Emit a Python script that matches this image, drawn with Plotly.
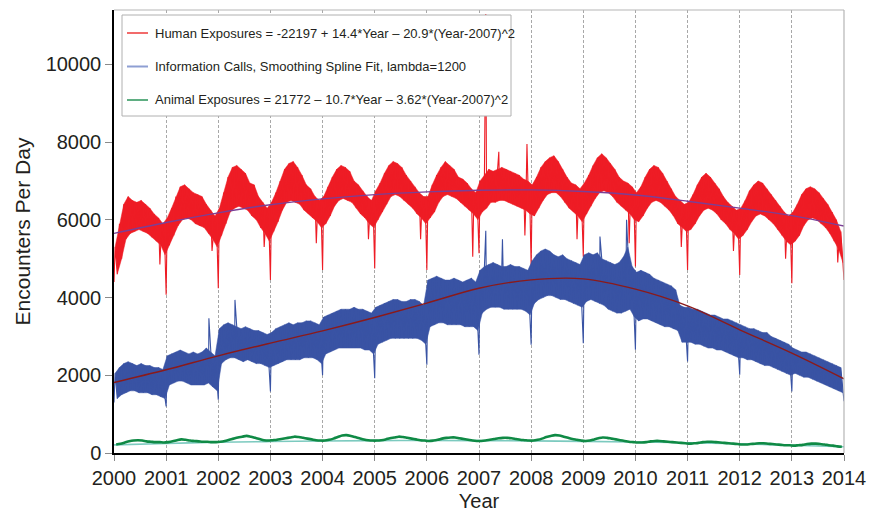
import plotly.graph_objects as go

# ---------------- data ----------------
years = list(range(2000, 2015))
tick_labels = [str(y) for y in years]
y_ticks = [0, 2000, 4000, 6000, 8000, 10000]
y_tick_labels = ["0", "2000", "4000", "6000", "8000", "10000"]

# Human exposures (red, top band): monthly upper / lower envelope, 2000-01 .. 2013-12
red_hi = [
    5300, 5900, 6400, 6600, 6500, 6450, 6500, 6400, 6300, 6150, 6050, 5900,
    6050, 6300, 6600, 6850, 6900, 6800, 6700, 6650, 6600, 6400, 6250, 6100,
    6300, 6700, 7100, 7350, 7400, 7300, 7200, 6950, 6900, 6600, 6450, 6300,
    6450, 6700, 7000, 7300, 7450, 7500, 7350, 7150, 6900, 6800, 6600, 6500,
    6600, 6850, 7100, 7300, 7400, 7350, 7250, 7000, 6900, 6750, 6600, 6500,
    6750, 6950, 7200, 7400, 7500, 7450, 7350, 7150, 7000, 6850, 6700, 6600,
    6600, 6900, 7150, 7350, 7500, 7400, 7300, 7100, 7050, 6950, 6800, 6700,
    7000, 7150, 7300, 7250, 7300, 7350, 7300, 7250, 7200, 7150, 7050, 7000,
    6900, 7100, 7350, 7500, 7600, 7650, 7500, 7300, 7100, 6950, 6900, 6800,
    6950, 7150, 7400, 7600, 7700, 7600, 7450, 7300, 7100, 7000, 6950, 6850,
    6700, 6850, 7100, 7300, 7400, 7350, 7200, 7000, 6800, 6600, 6500, 6400,
    6450, 6650, 6900, 7100, 7200, 7100, 6950, 6800, 6600, 6450, 6350, 6250,
    6300, 6500, 6750, 6900, 7000, 6950, 6800, 6650, 6500, 6350, 6200, 6100,
    6200, 6400, 6650, 6800, 6850, 6800, 6700, 6550, 6400, 6200, 6000, 5700,
]
red_lo = [
    4600, 5000, 5500, 5650, 5700, 5750, 5700, 5650, 5550, 5450, 5350, 5100,
    5350, 5600, 5850, 6000, 6050, 6000, 5900, 5850, 5800, 5650, 5500, 5300,
    5600, 5900, 6200, 6300, 6350, 6300, 6250, 6100, 6000, 5800, 5650, 5450,
    5700, 5950, 6250, 6450, 6500, 6450, 6400, 6250, 6150, 6050, 5950, 5800,
    5900, 6100, 6350, 6500, 6550, 6500, 6450, 6300, 6150, 6050, 5900, 5800,
    6000, 6200, 6400, 6600, 6650, 6600, 6500, 6400, 6300, 6150, 6050, 5900,
    6050, 6200, 6450, 6600, 6650, 6600, 6550, 6450, 6350, 6250, 6150, 6000,
    6200, 6300, 6450, 6450, 6500, 6500, 6450, 6400, 6350, 6300, 6250, 6150,
    6100, 6300, 6500, 6650, 6700, 6700, 6600, 6450, 6300, 6200, 6100, 5950,
    6150, 6350, 6550, 6700, 6750, 6700, 6600, 6450, 6350, 6250, 6150, 6000,
    5950, 6100, 6300, 6450, 6500, 6450, 6350, 6250, 6100, 5900, 5800, 5700,
    5750, 5900, 6100, 6250, 6300, 6250, 6150, 6000, 5900, 5750, 5650, 5500,
    5600, 5750, 5950, 6100, 6150, 6100, 6000, 5900, 5750, 5600, 5450, 5350,
    5450, 5600, 5850, 6000, 6050, 6000, 5900, 5800, 5650, 5450, 5250, 4900,
]
# single-day outliers of the red series (holidays and spikes)
red_spike_x = [2000.0, 2000.88, 2001.0, 2001.88, 2002.0, 2002.88, 2003.0, 2003.88,
               2004.0, 2004.88, 2005.0, 2005.88, 2006.0, 2006.88, 2007.0, 2007.13,
               2007.38, 2007.88, 2007.92, 2008.0, 2008.88, 2009.0, 2009.88, 2010.0,
               2010.88, 2011.0, 2011.88, 2012.0, 2012.88, 2013.0, 2013.88, 2014.0]
red_spike_y = [4400, 4850, 4070, 5200, 4240, 5300, 4450, 5400,
               4710, 5500, 4750, 5500, 4710, 5050, 5140, 11300,
               7750, 5600, 7950, 4800, 5500, 5050, 5400, 4800,
               5300, 4710, 5200, 4580, 5000, 4370, 4900, 4450]

# Information calls (blue, middle band): monthly upper / lower envelope
blue_hi = [
    2050, 2200, 2300, 2350, 2300, 2250, 2300, 2250, 2250, 2200, 2200, 2150,
    2500, 2550, 2600, 2650, 2600, 2550, 2600, 2550, 2600, 2700, 2600, 2500,
    3200, 3300, 3350, 3300, 3250, 3200, 3250, 3200, 3150, 3150, 3100, 3050,
    3100, 3200, 3250, 3300, 3350, 3300, 3350, 3350, 3400, 3400, 3350, 3300,
    3500, 3550, 3600, 3650, 3700, 3700, 3700, 3750, 3700, 3700, 3650, 3600,
    3750, 3800, 3850, 3900, 3950, 3950, 3900, 3900, 3950, 3950, 3900, 3800,
    4450, 4500, 4550, 4500, 4450, 4450, 4500, 4450, 4400, 4450, 4500, 4400,
    4700, 4800, 4850, 4900, 4850, 4800, 4800, 4850, 4800, 4800, 4750, 4700,
    4950, 5100, 5200, 5250, 5200, 5100, 5050, 5100, 5000, 4950, 4900, 4850,
    5100, 5150, 5100, 5150, 5000, 4950, 4900, 4850, 4900, 5050, 5300, 4800,
    4650, 4700, 4650, 4600, 4500, 4450, 4400, 4350, 4300, 4200, 3800, 3750,
    3750, 3700, 3700, 3650, 3600, 3550, 3550, 3500, 3450, 3450, 3400, 3350,
    3300, 3250, 3200, 3200, 3150, 3100, 3100, 3000, 2950, 2900, 2850, 2800,
    2700, 2650, 2600, 2600, 2550, 2500, 2450, 2400, 2350, 2300, 2250, 2200,
]
blue_lo = [
    1400, 1500, 1550, 1600, 1600, 1550, 1550, 1550, 1500, 1500, 1450, 1400,
    1750, 1800, 1850, 1850, 1800, 1750, 1750, 1750, 1750, 1800, 1700, 1600,
    2300, 2400, 2450, 2450, 2400, 2350, 2400, 2350, 2300, 2300, 2250, 2200,
    2250, 2300, 2350, 2400, 2400, 2400, 2400, 2450, 2450, 2450, 2400, 2300,
    2550, 2600, 2650, 2700, 2700, 2700, 2700, 2700, 2700, 2650, 2650, 2550,
    2800, 2850, 2900, 2950, 2950, 2950, 2950, 2950, 2950, 2950, 2900, 2800,
    3250, 3300, 3350, 3350, 3300, 3300, 3300, 3300, 3250, 3250, 3250, 3150,
    3600, 3700, 3750, 3750, 3750, 3700, 3700, 3700, 3700, 3700, 3650, 3550,
    3850, 3950, 4000, 4050, 4050, 4000, 3950, 3950, 3900, 3850, 3800, 3750,
    3900, 3950, 3900, 3850, 3800, 3700, 3650, 3600, 3600, 3650, 3700, 3500,
    3400, 3450, 3450, 3400, 3350, 3300, 3250, 3250, 3200, 3150, 2850, 2850,
    2850, 2800, 2800, 2750, 2700, 2700, 2650, 2650, 2600, 2550, 2500, 2450,
    2450, 2400, 2400, 2350, 2300, 2250, 2250, 2200, 2150, 2100, 2050, 2000,
    2050, 2000, 1950, 1950, 1900, 1850, 1800, 1750, 1700, 1650, 1600, 1550,
]
blue_spike_x = [2000.0, 2001.0, 2001.82, 2002.0, 2002.32, 2003.0, 2004.0, 2005.0,
                2006.0, 2007.0, 2007.13, 2007.45, 2008.0, 2009.0, 2009.32, 2009.83,
                2010.0, 2011.0, 2012.0, 2013.0, 2014.0]
blue_spike_y = [1300, 1200, 3470, 1370, 3940, 1585, 2000, 1925,
                2270, 2527, 5720, 5500, 2784, 2827, 5570, 6000,
                2655, 2356, 2013, 1584, 1330]

# Animal exposures (green, bottom): monthly values
green_vals = [
    220, 240, 270, 300, 320, 330, 320, 300, 290, 280, 280, 270,
    280, 300, 330, 350, 340, 320, 310, 300, 290, 290, 280, 280,
    290, 310, 340, 370, 400, 420, 440, 420, 390, 360, 330, 320,
    330, 340, 360, 380, 400, 420, 410, 390, 370, 350, 330, 320,
    320, 340, 370, 410, 450, 460, 440, 410, 380, 350, 330, 320,
    320, 330, 350, 380, 400, 420, 410, 390, 370, 350, 330, 320,
    310, 320, 340, 370, 390, 400, 400, 380, 360, 340, 320, 310,
    310, 320, 340, 360, 380, 390, 390, 380, 360, 340, 330, 320,
    320, 340, 370, 410, 440, 460, 450, 420, 390, 360, 340, 320,
    310, 320, 350, 380, 400, 390, 370, 350, 330, 310, 290, 280,
    270, 270, 280, 300, 310, 310, 300, 290, 280, 270, 260, 250,
    240, 250, 260, 280, 290, 290, 280, 270, 260, 250, 240, 230,
    220, 220, 230, 240, 250, 250, 240, 230, 220, 210, 200, 200,
    190, 200, 210, 230, 240, 240, 230, 220, 200, 190, 170, 160,
]

# fitted curves, read at each year
fit_red = [5650, 5930, 6180, 6390, 6540, 6650, 6720, 6760, 6770, 6730, 6640, 6480, 6300, 6110, 5840]
fit_blue = [1815, 2141, 2501, 2828, 3144, 3487, 3856, 4241, 4455, 4481, 4216, 3786, 3170, 2571, 1910]
fit_green = [210, 245, 275, 295, 310, 318, 320, 318, 312, 300, 285, 265, 235, 200, 160]

legend_names = [
    "Human Exposures = -22197 + 14.4*Year \u2013 20.9*(Year-2007)^2",
    "Information Calls, Smoothing Spline Fit, lambda=1200",
    "Animal Exposures = 21772 \u2013 10.7*Year \u2013 3.62*(Year-2007)^2",
]

# ---------------- helpers ----------------
def month_pos(i, frac):
    return years[0] + (i + frac) / 12.0


def band_series(hi, lo, sx, sy):
    pts = []
    for i, (h, l) in enumerate(zip(hi, lo)):
        pts.append((month_pos(i, 0.25), h))
        pts.append((month_pos(i, 0.75), l))
    pts += list(zip(sx, sy))
    pts.sort(key=lambda p: p[0])
    return [p[0] for p in pts], [p[1] for p in pts]


def band_polygon(hi, lo):
    xs = [month_pos(i, 0.25) for i in range(len(hi))]
    xl = [month_pos(i, 0.75) for i in range(len(lo))]
    return xs + xl[::-1], list(hi) + list(lo)[::-1]


RED = "#ee1c25"
BLUE = "#3953a4"
GREEN = "#0f8a45"
PURPLE = "#7b3f96"
DARKRED = "#8b1a1a"
TEAL = "#7ccabf"
TXT = "#231f20"
FONT = "Liberation Sans, Arial, sans-serif"

fig = go.Figure()

for hi, lo, sx, sy, col, fit, fcol in [
    (red_hi, red_lo, red_spike_x, red_spike_y, RED, fit_red, PURPLE),
    (blue_hi, blue_lo, blue_spike_x, blue_spike_y, BLUE, fit_blue, DARKRED),
]:
    px_, py_ = band_polygon(hi, lo)
    fig.add_trace(go.Scatter(x=px_, y=py_, mode="lines", fill="toself", fillcolor=col,
                             line=dict(color=col, width=0.5), showlegend=False, hoverinfo="skip"))
    zx, zy = band_series(hi, lo, sx, sy)
    fig.add_trace(go.Scatter(x=zx, y=zy, mode="lines", line=dict(color=col, width=1.1),
                             showlegend=False, hoverinfo="skip"))
    fig.add_trace(go.Scatter(x=years, y=fit, mode="lines", line=dict(color=fcol, width=1.4, shape="spline"),
                             showlegend=False, hoverinfo="skip"))

fig.add_trace(go.Scatter(x=years, y=fit_green, mode="lines", line=dict(color=TEAL, width=1.6, shape="spline"),
                         showlegend=False, hoverinfo="skip"))
gx = [month_pos(i, 0.5) for i in range(len(green_vals))]
fig.add_trace(go.Scatter(x=gx, y=green_vals, mode="lines", line=dict(color=GREEN, width=2.6, shape="spline"),
                         showlegend=False, hoverinfo="skip"))

# ---------------- layout ----------------
W, H = 870, 512
L, R, T, B = 114, 26, 10, 59
pw, ph = W - L - R, H - T - B


def px(xp):
    return (xp - L) / pw


def py(yp):
    return (H - B - yp) / ph


shapes = [
    dict(type="line", xref="paper", yref="paper", x0=0, x1=1, y0=1, y1=1,
         line=dict(color="#b5b5b5", width=1.2)),
    dict(type="line", xref="paper", yref="paper", x0=1, x1=1, y0=0, y1=1,
         line=dict(color="#b5b5b5", width=1.2)),
    dict(type="rect", xref="paper", yref="paper", x0=px(122), x1=px(511), y0=py(116), y1=py(15),
         fillcolor="white", line=dict(color="#b0b0b0", width=1), layer="above"),
]
annotations = []
legend_cols = ["#f26b6b", "#8e9fd3", "#5fae82"]
legend_y = [33, 66.5, 100]
for name, col, yy in zip(legend_names, legend_cols, legend_y):
    shapes.append(dict(type="line", xref="paper", yref="paper", x0=px(127), x1=px(148),
                       y0=py(yy), y1=py(yy), line=dict(color=col, width=2), layer="above"))
    annotations.append(dict(xref="paper", yref="paper", x=px(153), y=py(yy), text=name,
                            showarrow=False, xanchor="left", yanchor="middle",
                            font=dict(size=13, color=TXT, family=FONT)))

fig.update_layout(
    width=W, height=H,
    margin=dict(l=L, r=R, t=T, b=B, pad=0, autoexpand=False),
    paper_bgcolor="white", plot_bgcolor="white",
    font=dict(family=FONT, color=TXT),
    showlegend=False,
    shapes=shapes,
    annotations=annotations,
)
fig.update_xaxes(
    automargin=False,
    range=[2000, 2014], tickmode="array", tickvals=years, ticktext=tick_labels,
    tickfont=dict(size=20, color=TXT), ticks="outside", ticklen=6, tickcolor="#8a8a8a",
    showline=True, linecolor="black", linewidth=1.5,
    showgrid=True, gridcolor="#a8a8a8", griddash="3px,2px", gridwidth=1,
    zeroline=False,
    title=dict(text="Year", font=dict(size=20, color=TXT), standoff=9),
)
fig.update_yaxes(
    automargin=False,
    range=[0, 11400], tickmode="array", tickvals=y_ticks, ticktext=y_tick_labels,
    tickfont=dict(size=20, color=TXT), ticks="outside", ticklen=7, tickcolor="#8a8a8a",
    showline=True, linecolor="black", linewidth=1.5,
    showgrid=False, zeroline=False,
    title=dict(text="Encounters Per Day", font=dict(size=21, color=TXT), standoff=9),
)

# remove the default page margin so the 870x512 figure fills the window exactly
fig.write_html("out.html",
               config={"displayModeBar": False},
               post_script="document.body.style.margin='0';document.body.style.overflow='hidden';")
